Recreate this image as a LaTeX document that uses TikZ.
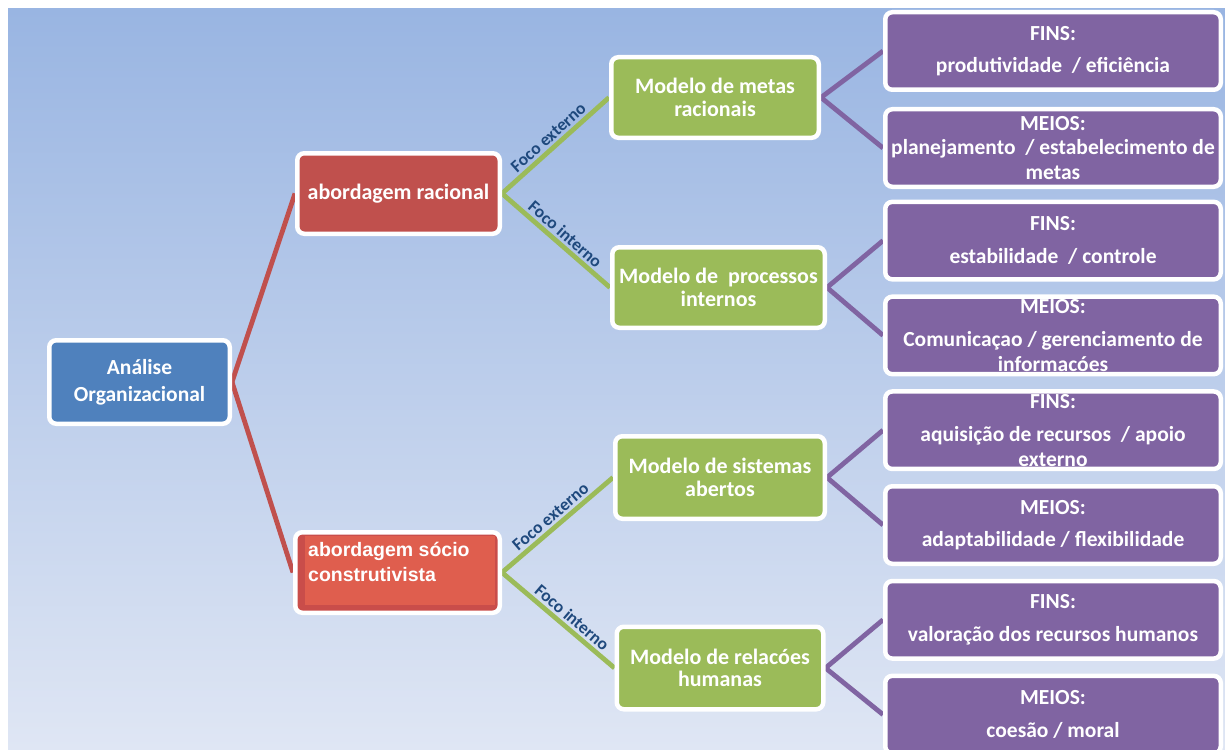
\documentclass[tikz,border=0pt]{standalone}
\usepackage{fontspec}
\setmainfont{Carlito}
\newfontfamily\arialfont{Liberation Sans}
\definecolor{bgtop}{RGB}{153,181,226}
\definecolor{bgbot}{RGB}{223,230,244}
\definecolor{cblue}{RGB}{79,129,189}
\definecolor{cred}{RGB}{192,80,77}
\definecolor{csocio}{RGB}{201,77,74}
\definecolor{csocioin}{RGB}{223,94,78}
\definecolor{cgreen}{RGB}{155,187,89}
\definecolor{cpurple}{RGB}{128,100,162}
\definecolor{cfoco}{RGB}{31,73,125}
\pgfdeclarelayer{back}
\pgfdeclarelayer{lines}
\pgfsetlayers{back,lines,main}
\begin{document}
\begin{tikzpicture}[x=1pt,y=-1pt,
  box/.style={draw=white, line width=4.5pt, rounded corners=7pt, text=white, align=center, inner sep=0pt},
  bluebox/.style={box, fill=cblue, minimum width=180.5pt, minimum height=83.5pt, font=\fontsize{21.5}{27}\selectfont\bfseries},
  redbox/.style={box, fill=cred, minimum width=202.5pt, minimum height=80.5pt, font=\fontsize{22}{26}\selectfont\bfseries},
  sociobox/.style={box, fill=csocio, minimum width=204.5pt, minimum height=80.5pt},
  greenbox/.style={box, fill=cgreen, minimum height=80.5pt, font=\fontsize{22}{22.5}\selectfont\bfseries},
  purplebox/.style={box, fill=cpurple, minimum width=335.5pt, minimum height=77.5pt, font=\fontsize{21.5}{24.5}\selectfont\bfseries},
  redline/.style={draw=cred, line width=4.8pt},
  greenline/.style={draw=cgreen, line width=4.8pt},
  purpleline/.style={draw=cpurple, line width=4.8pt},
  foco/.style={sloped, above, text=cfoco, font=\fontsize{17.5}{17.5}\selectfont\bfseries, inner sep=2.5pt}
]
\useasboundingbox (0,0) rectangle (1225,749);
\clip (0,0) rectangle (1225,749);
\begin{pgfonlayer}{back}
\fill[white] (0,0) rectangle (1225,749);
\shade[top color=bgtop, bottom color=bgbot] (8,9) rectangle (1225,749);
\end{pgfonlayer}

\node[bluebox] (A) at (139.5,382) {Análise\\Organizacional};
\node[redbox] (R) at (398.5,193.5) {abordagem racional};
\node[sociobox] (S) at (397.5,572.5) {};
\fill[csocioin] ([shift={(12,6)}]S.north west) -- ([shift={(-7,6)}]S.north east) -- ([shift={(-7,-10)}]S.south east) -- ([shift={(12,-10)}]S.south west) -- cycle;
\node[anchor=north west, inner sep=0pt, align=left, text=white, font=\arialfont\bfseries\fontsize{19.5}{25}\selectfont] (St) at ([shift={(15,12)}]S.north west) {abordagem sócio\\construtivista};

\node[greenbox, minimum width=207.5pt] (G1) at (715,97.5) {Modelo de metas\\racionais};
\node[greenbox, minimum width=212.5pt] (G2) at (718.5,287.5) {Modelo de~ processos\\internos};
\node[greenbox, minimum width=209.5pt, minimum height=82.5pt] (G3) at (720,477.5) {Modelo de sistemas\\abertos};
\node[greenbox, minimum width=206.5pt, minimum height=82.5pt] (G4) at (720,668) {Modelo de relacóes\\humanas};

\node[purplebox] (P1) at (1053,51) {FINS:\\[8pt]produtividade~ / eficiência};
\node[purplebox] (P2) at (1053,148) {MEIOS:\\planejamento~ / estabelecimento de\\metas};
\node[purplebox] (P3) at (1053,240.6) {FINS:\\[8pt]estabilidade~ / controle};
\node[purplebox] (P4) at (1053,335.4) {MEIOS:\\[9pt]Comunicaçao / gerenciamento de\\informacóes};
\node[purplebox] (P5) at (1053,430.2) {FINS:\\[9pt]aquisição de recursos~ / apoio\\externo};
\node[purplebox] (P6) at (1053,525) {MEIOS:\\[8pt]adaptabilidade / flexibilidade};
\node[purplebox] (P7) at (1053,619.8) {FINS:\\[8pt]valoração dos recursos humanos};
\node[purplebox] (P8) at (1053,714.6) {MEIOS:\\[8pt]coesão / moral};

\begin{pgfonlayer}{lines}
\draw[redline] (A.east) -- (R.west);
\draw[redline] (A.east) -- (S.west);
\draw[greenline] (R.east) -- node[foco, midway] {Foco externo} (G1.west);
\draw[greenline] (R.east) -- node[foco, pos=0.52] {Foco interno} (G2.west);
\draw[greenline] (S.east) -- node[foco, midway] {Foco externo} (G3.west);
\draw[greenline] (S.east) -- node[foco, pos=0.56] {Foco interno} (G4.west);
\draw[purpleline] (G1.east) -- (P1.west);
\draw[purpleline] (G1.east) -- (P2.west);
\draw[purpleline] (G2.east) -- (P3.west);
\draw[purpleline] (G2.east) -- (P4.west);
\draw[purpleline] (G3.east) -- (P5.west);
\draw[purpleline] (G3.east) -- (P6.west);
\draw[purpleline] (G4.east) -- (P7.west);
\draw[purpleline] (G4.east) -- (P8.west);
\end{pgfonlayer}
\end{tikzpicture}
\end{document}
